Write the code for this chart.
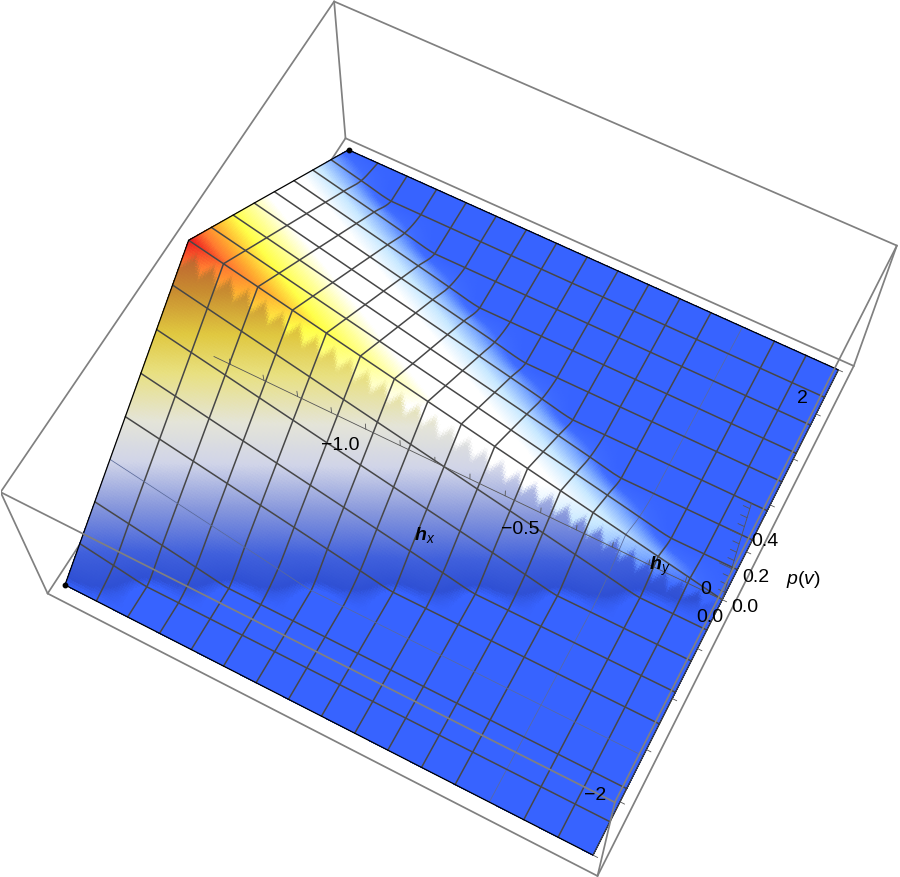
import numpy as np, matplotlib
matplotlib.use('Agg')
import matplotlib.pyplot as plt, seaborn as sns
from matplotlib.colors import LinearSegmentedColormap

sns.set_theme(style='white')
plt.rcParams['font.family'] = ['Liberation Sans', 'DejaVu Sans']
plt.rcParams['mathtext.fontset'] = 'custom'
plt.rcParams['mathtext.it'] = 'Liberation Sans:italic'
plt.rcParams['mathtext.rm'] = 'Liberation Sans'
plt.rcParams['mathtext.bfit'] = 'Liberation Sans:italic:bold'

# ---- data ----
hx_mesh = [-1.45, -1.359, -1.269, -1.178, -1.088, -0.997, -0.906, -0.816, -0.725,
           -0.634, -0.544, -0.453, -0.363, -0.272, -0.181, -0.091, 0.0]
hy_mesh = [-2.5, -2.188, -1.875, -1.562, -1.25, -0.938, -0.625, -0.312, 0.0,
           0.312, 0.625, 0.938, 1.25, 1.562, 1.875, 2.188, 2.5]
p_mesh = [
 [0, .073, .145, .218, .290, .363, .435, .508, .580, .508, .435, .363, .290, .218, .145, .073, 0],
 [0, .036, .109, .181, .254, .326, .399, .471, .544, .471, .399, .326, .254, .181, .109, .036, 0],
 [0, 0, .073, .145, .218, .290, .363, .435, .508, .435, .363, .290, .218, .145, .073, 0, 0],
 [0, 0, .036, .109, .181, .254, .326, .399, .471, .399, .326, .254, .181, .109, .036, 0, 0],
 [0, 0, 0, .073, .145, .218, .290, .363, .435, .363, .290, .218, .145, .073, 0, 0, 0],
 [0, 0, 0, .036, .109, .181, .254, .326, .399, .326, .254, .181, .109, .036, 0, 0, 0],
 [0, 0, 0, 0, .073, .145, .218, .290, .363, .290, .218, .145, .073, 0, 0, 0, 0],
 [0, 0, 0, 0, .036, .109, .181, .254, .326, .254, .181, .109, .036, 0, 0, 0, 0],
 [0, 0, 0, 0, 0, .073, .145, .218, .290, .218, .145, .073, 0, 0, 0, 0, 0],
 [0, 0, 0, 0, 0, .036, .109, .181, .254, .181, .109, .036, 0, 0, 0, 0, 0],
 [0, 0, 0, 0, 0, 0, .073, .145, .218, .145, .073, 0, 0, 0, 0, 0, 0],
 [0, 0, 0, 0, 0, 0, .036, .109, .181, .109, .036, 0, 0, 0, 0, 0, 0],
 [0, 0, 0, 0, 0, 0, 0, .073, .145, .073, 0, 0, 0, 0, 0, 0, 0],
 [0, 0, 0, 0, 0, 0, 0, .036, .109, .036, 0, 0, 0, 0, 0, 0, 0],
 [0, 0, 0, 0, 0, 0, 0, 0, .073, 0, 0, 0, 0, 0, 0, 0, 0],
 [0, 0, 0, 0, 0, 0, 0, 0, .036, 0, 0, 0, 0, 0, 0, 0, 0],
 [0, 0, 0, 0, 0, 0, 0, 0, 0, 0, 0, 0, 0, 0, 0, 0, 0],
]
hx_ticks = [-1.4, -1.3, -1.2, -1.1, -1.0, -0.9, -0.8, -0.7, -0.6, -0.5, -0.4, -0.3, -0.2, -0.1, 0.0]
hy_ticks = [-2.5, -2.0, -1.5, -1.0, -0.5, 0.0, 0.5, 1.0, 1.5, 2.0, 2.5]
p_ticks = [0.0, 0.05, 0.1, 0.15, 0.2, 0.25, 0.3, 0.35, 0.4, 0.45, 0.5, 0.55]
p_major = [0.0, 0.2, 0.4]
faint_hx_index = 13
faint_hy_index = 3
box_x = (-1.48, 0.03)
box_y = (-2.625, 2.625)
box_z = (-0.012, 0.592)
labels = [(340, 445, '\u22121.0'), (520, 530, '\u22120.5'), (710, 618, '0.0'),
          (706, 590, '0'), (802, 398, '2'), (595, 796, '\u22122'),
          (745, 607, '0.0'), (756, 577, '0.2'), (765, 541, '0.4'),
          (803, 580, r'$\mathit{p}(\mathit{v})$'),
          (425, 535, r'$\mathbfit{h}_{\mathit{x}}$'), (660, 566, r'$\mathbfit{h}_{\mathit{y}}$')]

upper_stops = [(0, '#3763ff'), (.05, '#3f6cff'), (.12, '#7aa8ff'), (.22, '#c8e8ff'), (.33, '#ffffff'),
               (.55, '#ffffff'), (.66, '#ffff9a'), (.76, '#ffff48'), (.86, '#ffb030'),
               (.93, '#ff7a30'), (1, '#ee2020')]
lower_stops = [(0, '#3763ff'), (.02, '#2f50d4'), (.1, '#4060dc'), (.24, '#8898dc'), (.37, '#d0d4e8'),
               (.49, '#e4e4d8'), (.63, '#e8e080'), (.74, '#e0c840'), (.86, '#c88c30'),
               (.94, '#c06a30'), (1, '#e02a20')]

# ---- rendering helpers ----
def refine(a, n, axis):
    a = np.moveaxis(a, axis, 0)
    e = np.concatenate([[2 * a[0] - a[1]], a, [2 * a[-1] - a[-2]]])
    out = []
    for k in range(len(a) - 1):
        for t in np.arange(n) / n:
            p0, p1, p2, p3 = e[k], e[k + 1], e[k + 2], e[k + 3]
            out.append(0.5 * (2 * p1 + (p2 - p0) * t + (2 * p0 - 5 * p1 + 4 * p2 - p3) * t ** 2
                              + (3 * p1 - p0 - 3 * p2 + p3) * t ** 3))
    out.append(a[-1])
    return np.moveaxis(np.array(out), 0, axis)

def refine_split_y(a, n):
    """Refine across hy on each side of the ridge, keeping the ridge sharp."""
    mid = a.shape[1] // 2
    left = refine(a[:, :mid + 1], n, 1)
    right = refine(a[:, mid:], n, 1)
    return np.concatenate([left, right[:, 1:]], axis=1)

SUB = 16
hx = np.array(hx_mesh); hy = np.array(hy_mesh); P = np.array(p_mesh, float)
X, Y = np.meshgrid(hx, hy, indexing='ij')
XF = refine_split_y(refine(X, SUB, 0), SUB)
YF = refine_split_y(refine(Y, SUB, 0), SUB)
ZF = np.maximum(refine_split_y(refine(P, SUB, 0), SUB), 0)

upper = LinearSegmentedColormap.from_list('upper', upper_stops, N=1024)
lower = LinearSegmentedColormap.from_list('lower', lower_stops, N=1024)
t = np.clip(ZF / P.max(), 0, 1)
phase = (XF - hx[0]) / (hx[1] - hx[0]) * 2
tooth = np.abs(phase % 1 - 0.5) * 2
edge = -0.02 - 0.10 * tooth
w = np.clip((edge - YF) / 0.09, 0, 1)[..., None]
w = w * w * (3 - 2 * w)
colors = (1 - w) * upper(t) + w * lower(t)

fig = plt.figure(figsize=(9, 8.77), dpi=100)
ax = fig.add_axes([0.92 / 900, -7.45 / 877, 896.7 / 900, 896.7 / 877], projection='3d')
ax.computed_zorder = False
ax.set_xlim(*box_x); ax.set_ylim(*box_y); ax.set_zlim(*box_z)
ax.view_init(63.9453, -62.5084, -0.2567)
ax.set_proj_type('persp', focal_length=float(np.exp(-0.8131)))
ax.set_box_aspect((2.4811, 2.4826, 1.0))
ax.set_axis_off()
ax.patch.set_alpha(0)

box_col = '#808080'
x0, x1 = box_x; y0, y1 = box_y; z0, z1 = box_z
floor = [(x0, y0), (x0, y1), (x1, y1), (x1, y0), (x0, y0)]
for a, b in zip(floor[:-1], floor[1:]):
    ax.plot([a[0], b[0]], [a[1], b[1]], [z0, z0], color=box_col, lw=1.25, zorder=1)

ax.plot_surface(XF, YF, ZF, facecolors=colors, rstride=1, cstride=1, shade=False,
                linewidth=0, antialiased=False, zorder=2)

mesh_col = '#474747'
for i in range(1, 16):
    faint = i == faint_hx_index
    ax.plot(XF[i * SUB, :], YF[i * SUB, :], ZF[i * SUB, :], color='#5a6a9a' if faint else mesh_col,
            lw=0.55 if faint else 1.1, zorder=3)
for j in range(1, 16):
    faint = j == faint_hy_index
    ax.plot(XF[:, j * SUB], YF[:, j * SUB], ZF[:, j * SUB], color='#5a6a9a' if faint else mesh_col,
            lw=0.55 if faint else 1.1, zorder=3)
for xs, ys, zs in ((XF[0, :], YF[0, :], ZF[0, :]), (XF[-1, :], YF[-1, :], ZF[-1, :]),
                   (XF[:, 0], YF[:, 0], ZF[:, 0]), (XF[:, -1], YF[:, -1], ZF[:, -1])):
    ax.plot(xs, ys, zs, color='black', lw=0.9, zorder=3.5)
ax.plot([hx[0], hx[0]], [hy[0], hy[-1]], [0, 0], ls='', marker='o', ms=3.2, color='black', zorder=3.6)

axis_col = '#555555'
ax.plot([hx[0], 0], [0, 0], [0, 0], color=axis_col, lw=0.6, zorder=4)
for v in hx_ticks:
    ax.plot([v, v], [0, 0], [0, 0.03], color=axis_col, lw=0.6, zorder=4)
ax.plot([0, 0], [hy[0], hy[-1]], [0, 0], color=axis_col, lw=0.6, zorder=4)
for v in hy_ticks:
    ax.plot([0, 0.012], [v, v], [0, 0], color=axis_col, lw=0.6, zorder=4)
ax.plot([0, 0], [0, 0], [0, 0.58], color=axis_col, lw=0.6, zorder=4)
for v in p_ticks:
    ln = 0.032 if v in p_major else 0.016
    ax.plot([0, -ln], [0, 0], [v, v], color=axis_col, lw=0.6, zorder=4)

corners = [(x0, y0), (x0, y1), (x1, y1), (x1, y0), (x0, y0)]
for a, b in zip(corners[:-1], corners[1:]):
    ax.plot([a[0], b[0]], [a[1], b[1]], [z1, z1], color=box_col, lw=1.25, zorder=5)
for a in corners[:-1]:
    ax.plot([a[0], a[0]], [a[1], a[1]], [z0, z1], color=box_col, lw=1.25, zorder=5)

for px, py, s in labels:
    fig.text(px / 900, 1 - py / 877, s, fontsize=14, color='black', ha='center', va='center')

fig.savefig('out.png', dpi=100)
